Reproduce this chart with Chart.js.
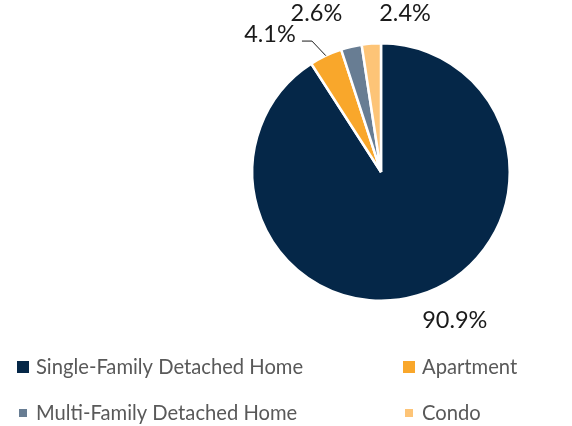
<!DOCTYPE html>
<html>
<head>
<meta charset="utf-8">
<script src="https://cdn.jsdelivr.net/npm/chart.js@4.4.1/dist/chart.umd.min.js"></script>
<style>
    html, body { margin: 0; padding: 0; background: #ffffff; }
    #wrap { width: 572px; height: 426px; }
</style>
</head>
<body>
<div id="wrap"><canvas id="home-chart" width="572" height="426"></canvas></div>
<script>
// chart data
const categories = ['Single-Family Detached Home', 'Apartment', 'Multi-Family Detached Home', 'Condo'];
const shares = [90.9, 4.1, 2.6, 2.4];
const shareLabels = ['90.9%', '4.1%', '2.6%', '2.4%'];
const sliceColors = ['#052748', '#f9a72b', '#687d93', '#fdc477'];

// percent labels around the pie: pushed out from the arc, then nudged
const labelGap = 30;
const labelNudge = [[29, -4], [-43, 6], [-28, -4], [36, 0]];

const pieLabels = {
    id: 'pieLabels',
    afterDatasetsDraw(chart) {
        const ctx = chart.ctx;
        const arcs = chart.getDatasetMeta(0).data;
        ctx.save();
        ctx.font = '23.5px Lato, "Liberation Sans", sans-serif';
        ctx.fillStyle = '#1a1a1a';
        ctx.textAlign = 'center';
        ctx.textBaseline = 'middle';
        arcs.forEach((arc, i) => {
            const mid = (arc.startAngle + arc.endAngle) / 2;
            const r = arc.outerRadius;
            const lx = arc.x + Math.cos(mid) * (r + labelGap) + labelNudge[i][0];
            const ly = arc.y + Math.sin(mid) * (r + labelGap) + labelNudge[i][1];
            ctx.fillText(shareLabels[i], lx, ly);
            if (i === 1) {
                // leader line for the apartment slice
                ctx.strokeStyle = '#1a1a1a';
                ctx.lineWidth = 1;
                ctx.beginPath();
                ctx.moveTo(arc.x + Math.cos(mid) * r, arc.y + Math.sin(mid) * r);
                ctx.lineTo(lx + 42, ly + 6.5);
                ctx.lineTo(lx + 32, ly + 6.5);
                ctx.stroke();
            }
        });
        ctx.restore();
    }
};

// two column legend under the pie
const legendCols = [17, 403];
const legendRows = [367, 413];
const boxSizes = [12, 8];

const gridLegend = {
    id: 'gridLegend',
    afterDraw(chart) {
        const ctx = chart.ctx;
        ctx.save();
        ctx.font = '20.2px Lato, "Liberation Sans", sans-serif';
        ctx.textBaseline = 'middle';
        ctx.textAlign = 'left';
        categories.forEach((name, i) => {
            const col = i % 2;
            const row = Math.floor(i / 2);
            const s = boxSizes[row];
            const x = legendCols[col] + (12 - s) / 2;
            const y = legendRows[row];
            ctx.fillStyle = sliceColors[i];
            ctx.fillRect(x, y - s / 2, s, s);
            ctx.fillStyle = '#595959';
            ctx.fillText(name, legendCols[col] + 19, y);
        });
        ctx.restore();
    }
};

const ctx = document.getElementById('home-chart').getContext('2d');
const homeChart = new Chart(ctx, {
    type: 'pie',
    data: {
        labels: categories,
        datasets: [{
            data: shares,
            backgroundColor: sliceColors,
            borderColor: '#ffffff',
            borderWidth: 2.5,
        }]
    },
    options: {
        responsive: false,
        animation: false,
        layout: {
            padding: { left: 251, right: 61, top: 42, bottom: 124 }
        },
        plugins: {
            legend: { display: false },
            tooltip: { enabled: false }
        }
    },
    plugins: [pieLabels, gridLegend]
});
</script>
</body>
</html>
